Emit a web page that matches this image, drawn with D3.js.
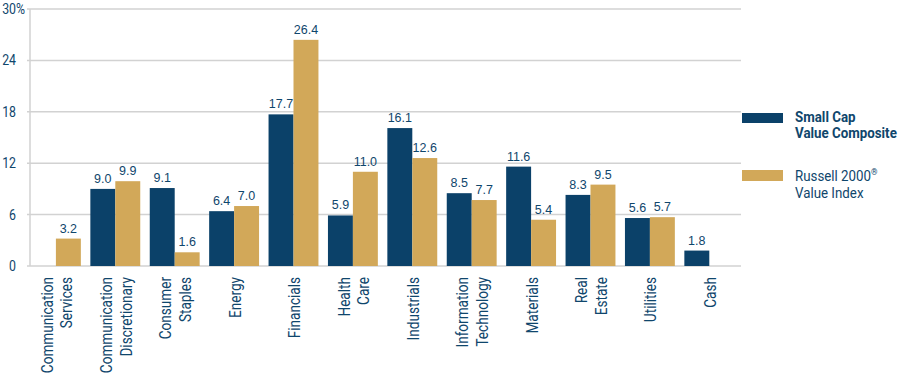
<!DOCTYPE html>
<html>
<head>
<meta charset="utf-8">
<title>Sector weights</title>
<script src="https://cdnjs.cloudflare.com/ajax/libs/d3/7.8.5/d3.min.js"></script>
<style>
	html, body { margin:0; padding:0; background:#fff; }
	svg { display:block; }
	text { font-family: Roboto, "DejaVu Sans Condensed", sans-serif; fill:#0f466c; }
	.val { font-family: "Liberation Sans", "DejaVu Sans", sans-serif; font-size:12.5px; }
</style>
</head>
<body>
<svg id="chart" width="900" height="382"></svg>
<script>
// sector labels, split into lines
var categories = [
	["Communication", "Services"],
	["Communication", "Discretionary"],
	["Consumer", "Staples"],
	["Energy"],
	["Financials"],
	["Health", "Care"],
	["Industrials"],
	["Information", "Technology"],
	["Materials"],
	["Real", "Estate"],
	["Utilities"],
	["Cash"]
];
var composite = [null, 9.0, 9.1, 6.4, 17.7, 5.9, 16.1, 8.5, 11.6, 8.3, 5.6, 1.8];
var russell   = [3.2, 9.9, 1.6, 7.0, 26.4, 11.0, 12.6, 7.7, 5.4, 9.5, 5.7, null];
var yTicks = [0, 6, 12, 18, 24, 30];
var seriesNames = ["composite", "russell"];

var navy = "#0b4169", gold = "#d2a859";
var squeeze = 0.8;   // fake a condensed face, none installed

var svg = d3.select("#chart");

var y = d3.scaleLinear().domain([0, 30]).range([266, 9]);
var x = d3.scaleBand().domain(d3.range(categories.length))
	.range([26.2, 739]).paddingInner(0.16).paddingOuter(0.08);
var xs = d3.scaleBand().domain(seriesNames).range([0, x.bandwidth()]);

// gridlines
svg.append("g").selectAll("line").data(yTicks).enter().append("line")
	.attr("x1", 27).attr("x2", 741)
	.attr("y1", function(d){ return y(d); }).attr("y2", function(d){ return y(d); })
	.attr("stroke", "#d2d2d2").attr("stroke-width", 1.5);

// y axis line
svg.append("line").attr("x1", 30).attr("x2", 30).attr("y1", y(30)).attr("y2", y(0))
	.attr("stroke", "#d2d2d2").attr("stroke-width", 1.5);

// y tick labels
svg.append("g").selectAll("g").data(yTicks).enter().append("g")
	.attr("transform", function(d){ return "translate(" + (d == 30 ? 25 : 16) + "," + (y(d) + 5) + ") scale(0.85,1)"; })
	.append("text")
	.attr("text-anchor", "end").style("font-size", "14.5px")
	.text(function(d){ return d == 30 ? d + "%" : d; });

// bars
var groups = svg.append("g").selectAll("g").data(categories).enter().append("g")
	.attr("transform", function(d, i){ return "translate(" + x(i) + ",0)"; });

function drawSeries(name, values, color) {
	groups.filter(function(d, i){ return values[i] != null; })
		.append("rect")
		.attr("x", xs(name)).attr("width", xs.bandwidth())
		.attr("y", function(d){ return y(values[categories.indexOf(d)]); })
		.attr("height", function(d){ return y(0) - y(values[categories.indexOf(d)]); })
		.attr("fill", color);
	groups.filter(function(d, i){ return values[i] != null; })
		.append("text").attr("class", "val")
		.attr("x", xs(name) + xs.bandwidth() / 2)
		.attr("y", function(d){ return y(values[categories.indexOf(d)]) - 6; })
		.attr("text-anchor", "middle")
		.text(function(d){ return values[categories.indexOf(d)].toFixed(1); });
}
drawSeries("composite", composite, navy);
drawSeries("russell", russell, gold);

// category labels, rotated
groups.each(function(lines) {
	var cx = x.bandwidth() / 2;
	var n = lines.length;
	var g = d3.select(this).append("g")
		.attr("transform", "translate(" + cx + ",277) rotate(-90) scale(" + squeeze + ",1)");
	g.selectAll("text").data(lines).enter().append("text")
		.attr("x", 0)
		.attr("y", function(d, j){ return (j - (n - 1) / 2) * 19.5 + 6.5; })
		.attr("text-anchor", "end").style("font-size", "17px")
		.text(function(d){ return d; });
});

// legend
var legend = svg.append("g");
legend.append("rect").attr("x", 742).attr("y", 113).attr("width", 41).attr("height", 10).attr("fill", navy);
legend.append("rect").attr("x", 742).attr("y", 170).attr("width", 41).attr("height", 11).attr("fill", gold);
var l1 = legend.append("g").attr("transform", "translate(795,122) scale(0.86,1)")
	.append("text").style("font-size", "15.5px").style("font-weight", "bold");
l1.append("tspan").attr("x", 0).text("Small Cap");
l1.append("tspan").attr("x", 0).attr("dy", 16.5).text("Value Composite");
var l2 = legend.append("g").attr("transform", "translate(795,181) scale(0.86,1)")
	.append("text").style("font-size", "15.5px");
l2.append("tspan").attr("x", 0).text("Russell 2000");
l2.append("tspan").style("font-size", "9.5px").attr("dy", -6).text("®");
l2.append("tspan").attr("x", 0).attr("dy", 23).text("Value Index");
</script>
</body>
</html>
